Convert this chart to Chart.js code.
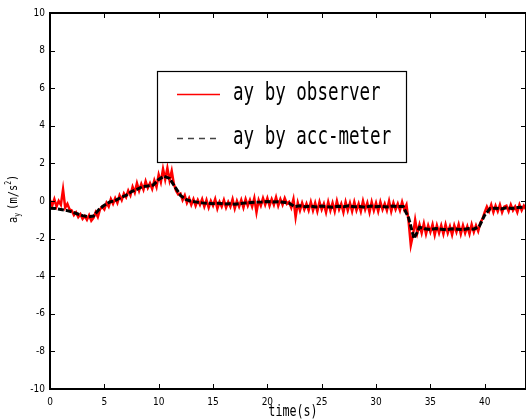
<!DOCTYPE html>
<html>
<head>
<meta charset="utf-8">
<script src="https://cdn.jsdelivr.net/npm/chart.js@4/dist/chart.umd.min.js"></script>
<style>
html, body { margin:0; padding:0; background:#fff; }
#id_chart { display:block; }
</style>
</head>
<body>
<canvas id="id_chart" width="526" height="419"></canvas>
<script>
// ---- data ----
var X_TICKS = [0, 5, 10, 15, 20, 25, 30, 35, 40];
var X_MAX = 43.8;
var Y_MIN = -10, Y_MAX = 10, Y_STEP = 2;
var SERIES_LABELS = ["ay by observer", "ay by acc-meter"];

// ay by observer, sampled every 0.2 s from t=0
var OBSERVER_DT = 0.2;
var observerValues = [
     0.05, -0.25,  0.10, -0.30,  0.00, -0.20,  0.62, -0.35, -0.15, -0.45,
    -0.50, -0.75, -0.60, -0.85, -0.70, -0.95, -0.80, -1.00, -0.75, -1.05,
    -0.90, -0.60, -0.85, -0.45, -0.30, -0.45, -0.10, -0.30,  0.10, -0.15,
     0.15, -0.10,  0.30,  0.05,  0.40,  0.20,  0.55,  0.30,  0.75,  0.45,
     0.95,  0.55,  0.90,  0.60,  1.05,  0.70,  0.95,  0.65,  1.10,  0.75,
     1.40,  1.00,  1.70,  1.15,  1.75,  1.10,  1.60,  0.90,  0.55,  0.35,
     0.40,  0.05,  0.30, -0.10,  0.15, -0.20,  0.10, -0.25,  0.05, -0.20,
     0.10, -0.30,  0.05, -0.35,  0.00, -0.25,  0.10, -0.40, -0.05, -0.30,
     0.05, -0.35, -0.05, -0.30,  0.10, -0.40,  0.00, -0.30,  0.05, -0.35,
     0.10, -0.25,  0.05, -0.30,  0.15, -0.60,  0.05, -0.25,  0.15, -0.20,
     0.15, -0.25,  0.10, -0.20,  0.20, -0.25,  0.10, -0.20,  0.15, -0.15,
    -0.05, -0.35,  0.10, -0.85, -0.10, -0.50, -0.10, -0.45, -0.15, -0.50,
    -0.05, -0.50, -0.10, -0.55, -0.05, -0.45, -0.15, -0.60, -0.05, -0.50,
    -0.10, -0.55,  0.00, -0.45, -0.15, -0.60, -0.05, -0.50, -0.10, -0.55,
    -0.05, -0.50, -0.15, -0.55,  0.00, -0.45, -0.10, -0.60, -0.05, -0.50,
    -0.10, -0.55, -0.05, -0.45, -0.15, -0.50,  0.00, -0.55, -0.10, -0.45,
    -0.15, -0.50, -0.05, -0.45, -0.20, -1.10, -2.35, -1.80, -1.00, -1.70,
    -1.25, -1.70, -1.20, -1.75, -1.30, -1.65, -1.25, -1.80, -1.30, -1.70,
    -1.30, -1.75, -1.25, -1.70, -1.35, -1.80, -1.30, -1.65, -1.25, -1.75,
    -1.30, -1.70, -1.35, -1.75, -1.25, -1.65, -1.30, -1.60, -1.15, -0.95,
    -0.60, -0.30, -0.55, -0.20, -0.60, -0.25, -0.55, -0.20, -0.60, -0.30,
    -0.25, -0.55, -0.20, -0.50, -0.30, -0.60, -0.20, -0.50, -0.25, -0.45
];

// ay by acc-meter, sampled every 0.5 s from t=0
var ACCMETER_DT = 0.5;
var accMeterValues = [
    -0.38, -0.40, -0.45, -0.50, -0.58, -0.68, -0.78, -0.84, -0.80, -0.45,
    -0.22, -0.05,  0.02,  0.18,  0.30,  0.50,  0.62,  0.76,  0.80,  0.85,
     1.15,  1.32,  1.20,  0.75,  0.30,  0.08, -0.02, -0.06, -0.10, -0.12,
    -0.14, -0.12, -0.16, -0.14, -0.17, -0.13, -0.10, -0.08, -0.06, -0.05,
    -0.03, -0.05, -0.04, -0.07, -0.12, -0.30, -0.26, -0.30, -0.28, -0.32,
    -0.27, -0.30, -0.33, -0.28, -0.30, -0.26, -0.31, -0.29, -0.33, -0.27,
    -0.30, -0.28, -0.32, -0.27, -0.30, -0.29, -0.90, -2.00, -1.40, -1.48,
    -1.52, -1.47, -1.50, -1.53, -1.48, -1.50, -1.52, -1.47, -1.50, -1.35,
    -0.75, -0.40, -0.38, -0.42, -0.36, -0.40, -0.35, -0.33
];

// ----------------------------------------------------------------------
var FONT = "'DejaVu Sans Mono', 'Liberation Mono', monospace";
var TICK_FONT = "'Liberation Sans Narrow', 'DejaVu Sans Condensed', 'Liberation Sans', sans-serif";

var _toPoints = function( values, dt ){
    return values.map(function(v, i){
        return { x : +(i * dt).toFixed(2), y : v };
    });
};

// inward ticks on all four sides + thick frame
var _framePlugin = {
    id : 'frame',
    afterDatasetsDraw : function( chart ){
        var ctx = chart.ctx, a = chart.chartArea;
        var xs = chart.scales.x, ys = chart.scales.y;
        ctx.save();
        ctx.strokeStyle = '#000';
        ctx.lineWidth = 1;
        ctx.beginPath();
        xs.ticks.forEach(function(t){
            var px = Math.round(xs.getPixelForValue(t.value)) + 0.5;
            ctx.moveTo(px, a.bottom); ctx.lineTo(px, a.bottom - 5);
            ctx.moveTo(px, a.top);    ctx.lineTo(px, a.top + 5);
        });
        ys.ticks.forEach(function(t){
            var py = Math.round(ys.getPixelForValue(t.value)) + 0.5;
            ctx.moveTo(a.left, py);  ctx.lineTo(a.left + 5, py);
            ctx.moveTo(a.right, py); ctx.lineTo(a.right - 5, py);
        });
        ctx.stroke();
        ctx.lineWidth = 2;
        ctx.strokeRect(a.left, a.top, a.right - a.left, a.bottom - a.top);
        ctx.restore();
    }
};

// narrow text helper (the original uses a condensed gothic face)
var _narrowText = function( ctx, text, x, y, size, sx, align ){
    ctx.save();
    ctx.font = size + "px " + FONT;
    ctx.textBaseline = 'middle';
    var w = ctx.measureText(text).width * sx;
    var x0 = (align === 'center') ? x - w / 2 : x;
    ctx.translate(x0, y);
    ctx.scale(sx, 1);
    ctx.textAlign = 'left';
    ctx.fillText(text, 0, 0);
    ctx.restore();
    return w;
};

var _decorPlugin = {
    id : 'decor',
    afterDraw : function( chart ){
        var ctx = chart.ctx;
        ctx.save();

        // legend box
        ctx.fillStyle = '#fff';
        ctx.fillRect(157, 71, 249, 91);
        ctx.strokeStyle = '#000';
        ctx.lineWidth = 1.2;
        ctx.strokeRect(157.5, 71.5, 249, 91);
        ctx.strokeStyle = '#ff0000';
        ctx.lineWidth = 1.5;
        ctx.beginPath(); ctx.moveTo(177, 94.5); ctx.lineTo(220, 94.5); ctx.stroke();
        ctx.strokeStyle = '#444';
        ctx.setLineDash([6, 5]);
        ctx.beginPath(); ctx.moveTo(177, 138.5); ctx.lineTo(220, 138.5); ctx.stroke();
        ctx.setLineDash([]);
        ctx.fillStyle = '#000';
        _narrowText(ctx, SERIES_LABELS[0], 233, 94, 24, 0.73, 'left');
        _narrowText(ctx, SERIES_LABELS[1], 233, 138, 24, 0.73, 'left');

        // x title
        _narrowText(ctx, "time(s)", 293, 412, 15, 0.78, 'center');

        // y title: a_y (m/s^2), rotated
        ctx.save();
        ctx.translate(13, 223);
        ctx.rotate(-Math.PI / 2);
        ctx.textBaseline = 'alphabetic';
        ctx.textAlign = 'left';
        var x = 0;
        ctx.font = "13px " + FONT;
        ctx.save(); ctx.scale(0.8, 1); ctx.fillText("a", 0, 4); ctx.restore();
        x += ctx.measureText("a").width * 0.8;
        ctx.font = "8px " + FONT;
        ctx.save(); ctx.translate(x, 0); ctx.scale(0.8, 1); ctx.fillText("y", 0, 7); ctx.restore();
        x += ctx.measureText("y").width * 0.8 + 3;
        ctx.font = "13px " + FONT;
        ctx.save(); ctx.translate(x, 0); ctx.scale(0.8, 1); ctx.fillText("(m/s", 0, 4); ctx.restore();
        x += ctx.measureText("(m/s").width * 0.8;
        ctx.font = "8px " + FONT;
        ctx.save(); ctx.translate(x, 0); ctx.scale(0.8, 1); ctx.fillText("2", 0, -2); ctx.restore();
        x += ctx.measureText("2").width * 0.8;
        ctx.font = "13px " + FONT;
        ctx.save(); ctx.translate(x, 0); ctx.scale(0.8, 1); ctx.fillText(")", 0, 4); ctx.restore();
        ctx.restore();

        ctx.restore();
    }
};

window.onload = function(){
    var ctx = document.getElementById('id_chart').getContext('2d');
    new Chart(ctx, {
        type : 'line',
        data : {
            datasets : [{
                label : SERIES_LABELS[1],
                data : _toPoints(accMeterValues, ACCMETER_DT),
                borderColor : '#000000',
                borderWidth : 3,
                borderDash : [6, 2],
                pointRadius : 0,
                tension : 0
            }, {
                label : SERIES_LABELS[0],
                data : _toPoints(observerValues, OBSERVER_DT),
                borderColor : '#ff0000',
                borderWidth : 2.5,
                pointRadius : 0,
                tension : 0
            }]
        },
        options : {
            responsive : false,
            animation : false,
            devicePixelRatio : 1,
            layout : { padding : { top : 13, right : 0, left : 0, bottom : 0 } },
            plugins : { legend : { display : false }, tooltip : { enabled : false } },
            scales : {
                x : {
                    type : 'linear',
                    min : 0,
                    max : X_MAX,
                    afterBuildTicks : function( s ){
                        s.ticks = X_TICKS.map(function(v){ return { value : v }; });
                    },
                    afterFit : function( s ){ s.height = 30; },
                    grid : { display : false, drawTicks : false, tickLength : 0 },
                    border : { display : false },
                    ticks : {
                        color : '#000',
                        padding : 7,
                        maxRotation : 0,
                        autoSkip : false,
                        font : { family : TICK_FONT, size : 10 }
                    }
                },
                y : {
                    min : Y_MIN,
                    max : Y_MAX,
                    afterFit : function( s ){ s.width = 50; },
                    grid : { display : false, drawTicks : false, tickLength : 0 },
                    border : { display : false },
                    ticks : {
                        stepSize : Y_STEP,
                        color : '#000',
                        padding : 5,
                        font : { family : TICK_FONT, size : 10 }
                    }
                }
            }
        },
        plugins : [ _framePlugin, _decorPlugin ]
    });
};
</script>
</body>
</html>
